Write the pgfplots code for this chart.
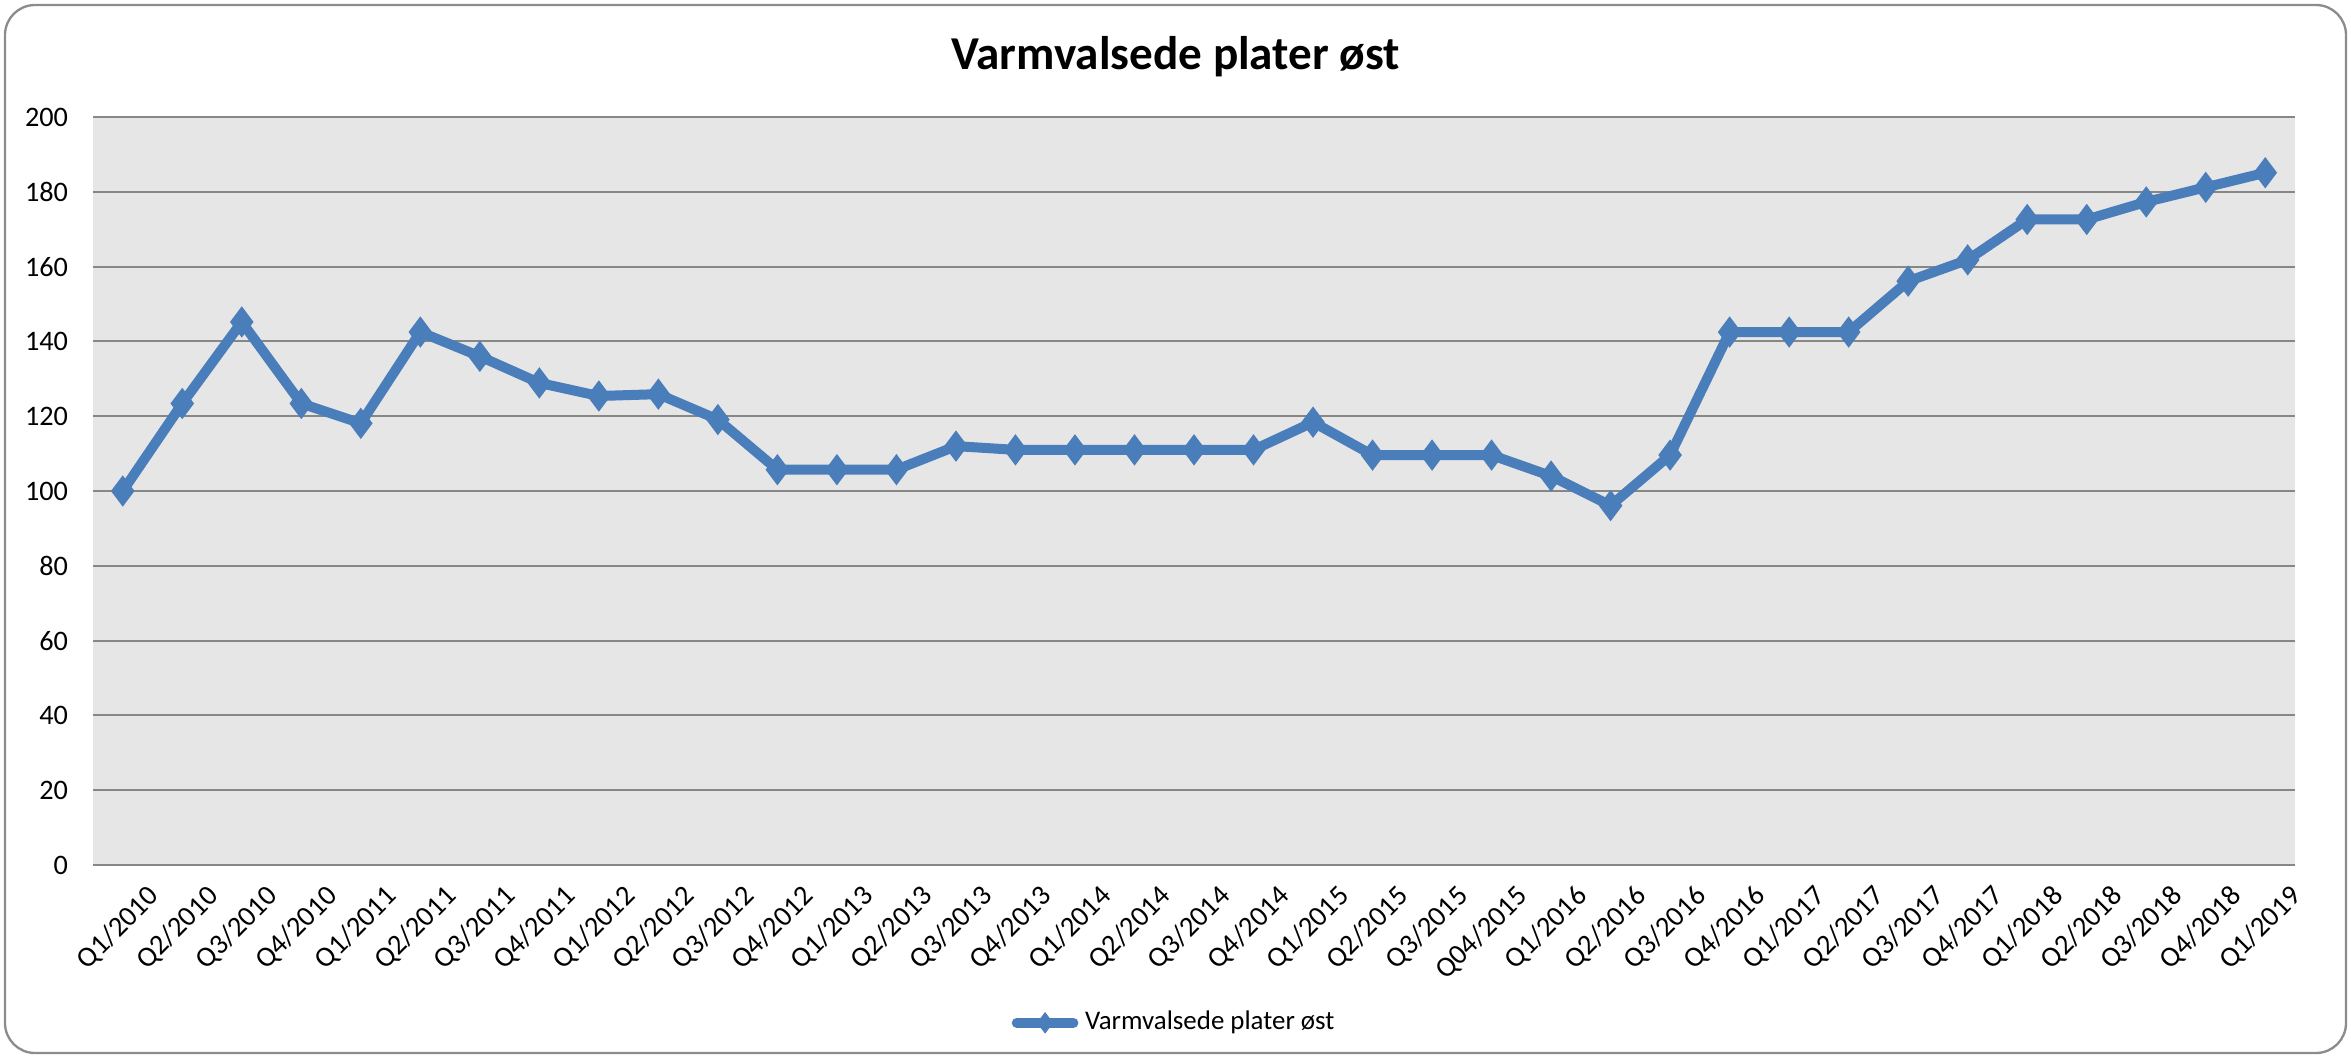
\documentclass[border=0pt]{standalone}
\usepackage{pgfplots}
\pgfplotsset{compat=1.18}
\usepackage{fontspec}
\setmainfont{Carlito}
\definecolor{linecol}{HTML}{4A7EBB}
\definecolor{plotbg}{HTML}{E6E6E6}
\definecolor{gridcol}{HTML}{878787}
\definecolor{framecol}{HTML}{8C8C8C}
\begin{document}
\begin{tikzpicture}
\path[use as bounding box] (0,0) rectangle (705.3bp,-317.4bp);
\draw[framecol, line width=0.7bp, rounded corners=9bp] (1.5bp,-1.5bp) rectangle (703.8bp,-315.9bp);
\node[font=\fontsize{14.2}{17}\selectfont\bfseries] at (352.7bp,-17.1bp) {Varmvalsede plater øst};
\begin{axis}[
  at={(27.9bp,-259.5bp)}, anchor=south west,
  scale only axis, width=660.6bp, height=224.4bp,
  xmin=-0.5, xmax=36.5, ymin=0, ymax=200,
  axis x line*=bottom, axis y line*=left,
  x axis line style={gridcol, line width=0.7bp, -},
  y axis line style={draw=none},
  axis background/.style={fill=plotbg},
  ytick={0,20,...,200},
  ymajorgrids, grid style={gridcol, line width=0.6bp},
  ytick style={draw=none},
  yticklabel style={font=\fontsize{8.5}{10}\selectfont, xshift=-4bp},
  /pgf/number format/assume math mode=true,
  xtick={0,...,36},
  major x tick style={draw=none},
  xticklabels={Q1/2010,Q2/2010,Q3/2010,Q4/2010,Q1/2011,Q2/2011,Q3/2011,Q4/2011,Q1/2012,Q2/2012,Q3/2012,Q4/2012,Q1/2013,Q2/2013,Q3/2013,Q4/2013,Q1/2014,Q2/2014,Q3/2014,Q4/2014,Q1/2015,Q2/2015,Q3/2015,Q04/2015,Q1/2016,Q2/2016,Q3/2016,Q4/2016,Q1/2017,Q2/2017,Q3/2017,Q4/2017,Q1/2018,Q2/2018,Q3/2018,Q4/2018,Q1/2019},
  xticklabel style={font=\fontsize{8.6}{10}\selectfont, rotate=45, anchor=north east, inner sep=0pt, yshift=-8.7bp, xshift=1.2bp},
  extra x ticks={-0.5,0.5,...,36.5},
  extra x tick labels={},
  extra x tick style={major tick length=2.7bp, tick align=outside, major x tick style={gridcol, line width=0.6bp}},
  legend style={at={(0.492,-0.211)}, anchor=center, draw=none, fill=none, font=\fontsize{8.1}{10}\selectfont, inner sep=0pt},
  legend cell align=left,
  legend image code/.code={
    \draw[line width=3bp, line cap=round] (0cm,0cm) -- (0.6cm,0cm);
    \draw[mark=diamond*, mark size=3bp, mark options={line width=0.3bp}] plot coordinates {(0.3cm,0cm)};
  },
]
\addplot[linecol, line width=3bp, mark=diamond*, mark size=4.3bp, mark options={fill=linecol, draw=linecol, line width=0.5bp}]
coordinates {
(0,100) (1,123.4) (2,145.2) (3,123.4) (4,118.1) (5,142.5) (6,136) (7,128.9)
(8,125.4) (9,125.9) (10,119.1) (11,105.7) (12,105.7) (13,105.7) (14,112) (15,111)
(16,111) (17,111) (18,111) (19,111) (20,118.4) (21,109.6) (22,109.6) (23,109.6)
(24,104) (25,96.1) (26,109.6) (27,142.5) (28,142.5) (29,142.5) (30,156.1) (31,161.8)
(32,172.6) (33,172.6) (34,177.3) (35,181.2) (36,185.1)
};
\addlegendentry{Varmvalsede plater øst}
\end{axis}
\end{tikzpicture}
\end{document}
